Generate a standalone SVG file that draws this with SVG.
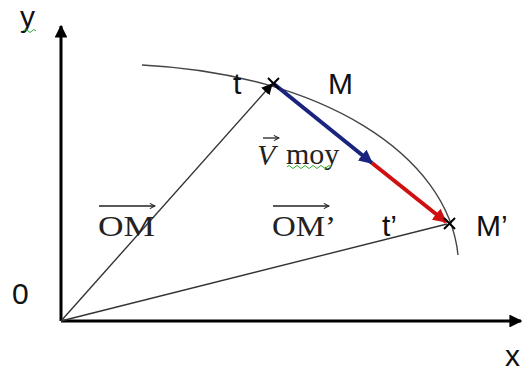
<svg xmlns="http://www.w3.org/2000/svg" width="525" height="376" viewBox="0 0 525 376">
<defs>
<style>
.axis{stroke:#000;stroke-width:3;fill:none}
.thin{stroke:#333;stroke-width:1.4;fill:none}
.curve{stroke:#444;stroke-width:1.4;fill:none}
.sans{font-family:"Liberation Sans",Arial,sans-serif;font-size:30px;fill:#111}
.serif{font-family:"Liberation Serif","Times New Roman",serif;font-size:30px;fill:#222}
.cross{stroke:#000;stroke-width:2}
.vec{stroke:#222;stroke-width:1.3;fill:none}
</style>
<marker id="axhead" viewBox="0 0 10 10" refX="9" refY="5" markerWidth="4.3" markerHeight="4.3" orient="auto" markerUnits="strokeWidth"><path d="M0,0 L10,5 L0,10 z" fill="#000"/></marker>
<marker id="thinhead" viewBox="0 0 10 10" refX="9" refY="5" markerWidth="8" markerHeight="8" orient="auto" markerUnits="strokeWidth"><path d="M0,0 L10,5 L0,10 z" fill="#000"/></marker>
<marker id="bluehead" viewBox="0 0 10 10" refX="9" refY="5" markerWidth="3.5" markerHeight="3.5" orient="auto" markerUnits="strokeWidth"><path d="M0,0 L10,5 L0,10 z" fill="#1a237e"/></marker>
<marker id="redhead" viewBox="0 0 10 10" refX="9" refY="5" markerWidth="3.5" markerHeight="3.5" orient="auto" markerUnits="strokeWidth"><path d="M0,0 L10,5 L0,10 z" fill="#d01010"/></marker>
<marker id="vechead" viewBox="0 0 10 10" refX="9" refY="5" markerWidth="5" markerHeight="5" orient="auto" markerUnits="strokeWidth"><path d="M1,1 L9,5 L1,9" fill="none" stroke="#222" stroke-width="1.6"/></marker>
</defs>
<rect width="525" height="376" fill="#fff"/>
<g id="axes">
<path class="axis" d="M61,321 V26" marker-end="url(#axhead)"/>
<path class="axis" d="M61,321 H521" marker-end="url(#axhead)"/>
<text class="sans" x="20" y="27">y</text>
<path d="M24,31 q2,-3 4,0 t4,0 t4,0" stroke="#3a3" stroke-width="1" fill="none"/>
<text class="sans" x="12" y="304">0</text>
<text class="sans" x="505" y="366">x</text>
</g>
<g id="trajectory">
<path class="curve" d="M142,65 C322,74 448,155 458,255"/>
</g>
<g id="connectors">
<line class="thin" x1="61" y1="321" x2="272" y2="84" marker-end="url(#thinhead)"/>
<line class="thin" x1="61" y1="321" x2="447" y2="224"/>
<line x1="274" y1="84" x2="372" y2="163" stroke="#1a237e" stroke-width="4" marker-end="url(#bluehead)"/>
<line x1="372" y1="163" x2="446" y2="222" stroke="#d01010" stroke-width="4" marker-end="url(#redhead)"/>
</g>
<g id="M">
<path class="cross" d="M268,78 L279,89 M279,78 L268,89"/>
<text class="sans" x="233" y="94">t</text>
<text class="sans" x="328" y="94">M</text>
</g>
<g id="Mprime">
<path class="cross" d="M444,218 L455,229 M455,218 L444,229"/>
<text class="sans" x="382" y="236">t’</text>
<text class="sans" x="476" y="236">M’</text>
</g>
<g id="OM">
<text class="serif" x="98" y="236" textLength="57" lengthAdjust="spacingAndGlyphs">OM</text>
<line class="vec" x1="99" y1="206" x2="155" y2="206" marker-end="url(#vechead)"/>
</g>
<g id="OMprime">
<text class="serif" x="272" y="236" textLength="64" lengthAdjust="spacingAndGlyphs">OM’</text>
<line class="vec" x1="273" y1="206" x2="329" y2="206" marker-end="url(#vechead)"/>
</g>
<g id="Vmoy">
<text class="serif" x="257" y="165" font-size="34" font-style="italic">V</text>
<line class="vec" x1="263" y1="138" x2="279" y2="138" marker-end="url(#vechead)"/>
<text class="serif" x="286" y="164" font-size="25" fill="#555">moy</text>
<path d="M287,167 q2,-3 4,0 t4,0 t4,0 t4,0 t4,0 t4,0 t4,0 t4,0 t4,0 t4,0 t4,0" stroke="#3a3" stroke-width="1" fill="none"/>
</g>
</svg>
